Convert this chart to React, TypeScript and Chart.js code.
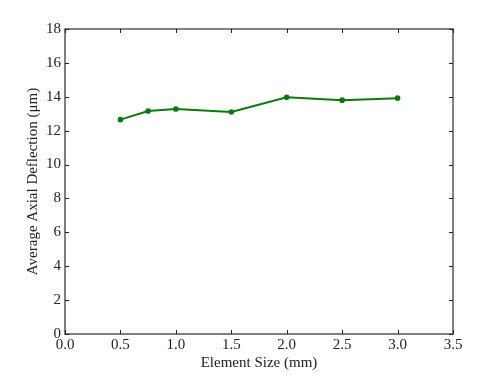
import React, { useEffect, useRef } from "react";
import { Chart, registerables } from "chart.js";

Chart.register(...registerables);

const elementSizes = [0.5, 0.75, 1.0, 1.5, 2.0, 2.5, 3.0];
const deflections = [12.65, 13.16, 13.28, 13.1, 13.97, 13.8, 13.92];
const xTicks = [0, 0.5, 1.0, 1.5, 2.0, 2.5, 3.0, 3.5];
const yTicks = [0, 2, 4, 6, 8, 10, 12, 14, 16, 18];

const FONT = "'Liberation Serif', 'Times New Roman', serif";

const boxPlugin = {
  id: "boxTicks",
  afterDraw(chart: any) {
    const { ctx, chartArea } = chart;
    const xs = chart.scales.x;
    const ys = chart.scales.y;
    const { left, right, top, bottom } = chartArea;
    ctx.save();
    ctx.strokeStyle = "#555555";
    ctx.lineWidth = 1.5;
    ctx.strokeRect(left, top, right - left, bottom - top);
    ctx.strokeStyle = "#222222";
    ctx.lineWidth = 1;
    const t = 4;
    ctx.beginPath();
    xTicks.forEach((v) => {
      const px = Math.round(xs.getPixelForValue(v)) + 0.5;
      ctx.moveTo(px, bottom);
      ctx.lineTo(px, bottom - t);
      ctx.moveTo(px, top);
      ctx.lineTo(px, top + t);
    });
    yTicks.forEach((v) => {
      const py = Math.round(ys.getPixelForValue(v)) + 0.5;
      ctx.moveTo(left, py);
      ctx.lineTo(left + t, py);
      ctx.moveTo(right, py);
      ctx.lineTo(right - t, py);
    });
    ctx.stroke();
    ctx.restore();
  },
};

export default function App() {
  const ref = useRef<HTMLCanvasElement>(null);
  useEffect(() => {
    document.body.style.margin = "0";
    const chart = new Chart(ref.current!, {
      type: "line",
      data: {
        datasets: [
          {
            data: elementSizes.map((x, i) => ({ x, y: deflections[i] })),
            borderColor: "#0a7a0a",
            backgroundColor: "#0a7a0a",
            borderWidth: 2,
            pointRadius: 1.8,
            pointHoverRadius: 1.8,
            tension: 0,
          },
        ],
      },
      options: {
        animation: false,
        responsive: false,
        layout: { padding: { top: 29, right: 47, left: 0, bottom: 0 } },
        plugins: { legend: { display: false }, tooltip: { enabled: false } },
        scales: {
          x: {
            type: "linear",
            min: 0,
            max: 3.5,
            afterBuildTicks: (s: any) => {
              s.ticks = xTicks.map((v) => ({ value: v }));
            },
            afterFit: (s: any) => {
              s.height = 41;
            },
            grid: { display: false, drawTicks: false },
            border: { display: false },
            ticks: {
              padding: 2,
              color: "#222",
              font: { family: FONT, size: 15 },
              callback: (v: any) => Number(v).toFixed(1),
            },
            title: {
              display: true,
              text: "Element Size (mm)",
              color: "#222",
              font: { family: FONT, size: 15 },
              padding: { top: 0, bottom: 3 },
            },
          },
          y: {
            type: "linear",
            min: 0,
            max: 18,
            afterBuildTicks: (s: any) => {
              s.ticks = yTicks.map((v) => ({ value: v }));
            },
            afterFit: (s: any) => {
              s.width = 65;
            },
            grid: { display: false, drawTicks: false },
            border: { display: false },
            ticks: {
              padding: 4,
              color: "#222",
              font: { family: FONT, size: 15 },
            },
            title: {
              display: true,
              text: "Average Axial Deflection (\u03bcm)",
              color: "#222",
              font: { family: FONT, size: 15 },
              padding: { top: 24, bottom: 0 },
            },
          },
        },
      },
      plugins: [boxPlugin],
    });
    return () => chart.destroy();
  }, []);
  return (
    <div style={{ position: "absolute", left: 0, top: 0, width: 500, height: 375, background: "#fff" }}>
      <canvas ref={ref} width={500} height={375} />
    </div>
  );
}
